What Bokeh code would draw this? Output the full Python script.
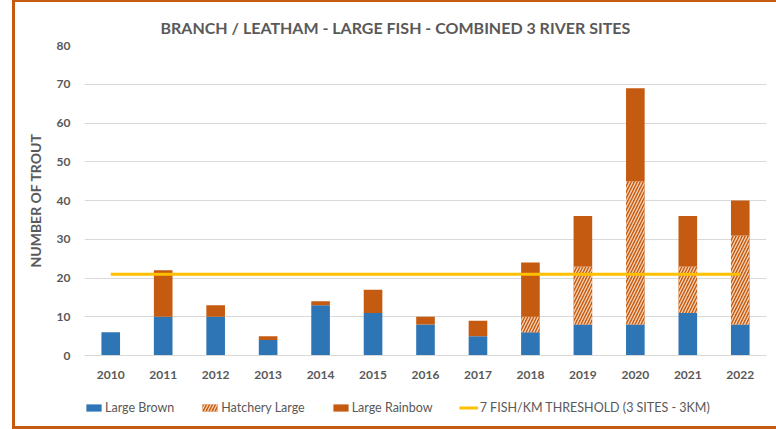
import numpy as np
from bokeh.plotting import figure
from bokeh.layouts import column
from bokeh.models import ColumnDataSource, Legend, LegendItem, Range1d
from bokeh.embed import file_html
from bokeh.resources import INLINE

years = ["2010", "2011", "2012", "2013", "2014", "2015", "2016", "2017",
         "2018", "2019", "2020", "2021", "2022"]
large_brown = [6, 10, 10, 4, 13, 11, 8, 5, 6, 8, 8, 11, 8]
hatchery_large = [0, 0, 0, 0, 0, 0, 0, 0, 4, 15, 37, 12, 23]
large_rainbow = [0, 12, 3, 1, 1, 6, 2, 4, 14, 13, 24, 13, 9]
threshold = [21] * len(years)
y_ticks = [0, 10, 20, 30, 40, 50, 60, 70, 80]
labels = ["Large Brown", "Hatchery Large", "Large Rainbow",
          "7 FISH/KM THRESHOLD (3 SITES - 3KM)"]

BLUE = "#2E75B6"
ORANGE = "#C55A11"
YELLOW = "#FFC000"
GRAY = "#595959"
FONT = "Lato"
HATCH = dict(hatch_pattern="/", hatch_color="#F8D5B8", hatch_weight=1.3, hatch_scale=6)

b = np.array(large_brown, dtype=float)
h = np.array(hatchery_large, dtype=float)
r = np.array(large_rainbow, dtype=float)
src = ColumnDataSource(dict(
    x=years,
    b0=np.zeros_like(b), b1=b,
    h0=b, h1=b + h,
    r0=b + h, r1=b + h + r,
    t=threshold,
))


def draw(fig):
    rb = fig.vbar(x="x", bottom="b0", top="b1", width=0.355, source=src,
                  fill_color=BLUE, line_color=None)
    rh = fig.vbar(x="x", bottom="h0", top="h1", width=0.355, source=src,
                  fill_color=ORANGE, line_color=None, **HATCH)
    rr = fig.vbar(x="x", bottom="r0", top="r1", width=0.355, source=src,
                  fill_color=ORANGE, line_color=None)
    rt = fig.line(x="x", y="t", source=src, line_color=YELLOW, line_width=3)
    return [rb, rh, rr, rt]


p = figure(
    x_range=years, y_range=Range1d(0, 80),
    width=761, height=390,
    title="BRANCH / LEATHAM - LARGE FISH - COMBINED 3 RIVER SITES",
    output_backend="svg", toolbar_location=None,
    min_border_left=69, min_border_right=10, min_border_top=43, min_border_bottom=37,
)
p.outline_line_color = None
p.title.align = "left"
p.title.offset = 76
p.title.text_font = FONT
p.title.text_font_size = "16px"
p.title.text_font_style = "bold"
p.title.text_color = GRAY
p.title.standoff = 18

draw(p)

p.yaxis.ticker = y_ticks
p.ygrid.grid_line_color = "#D9D9D9"
p.xgrid.grid_line_color = None
p.yaxis.axis_line_color = None
p.yaxis.major_tick_line_color = None
p.yaxis.minor_tick_line_color = None
p.xaxis.axis_line_color = "#D9D9D9"
p.xaxis.major_tick_line_color = None
p.xaxis.minor_tick_line_color = None
p.yaxis.axis_label = "NUMBER OF TROUT"
p.yaxis.axis_label_text_font = FONT
p.yaxis.axis_label_text_font_size = "14px"
p.yaxis.axis_label_text_font_style = "bold"
p.yaxis.axis_label_text_color = GRAY
p.yaxis.axis_label_standoff = 10
for ax in (p.xaxis, p.yaxis):
    ax.major_label_text_font = FONT
    ax.major_label_text_font_size = "12px"
    ax.major_label_text_color = GRAY
    ax.major_label_text_font_style = "bold"
p.yaxis.major_label_standoff = 8
p.xaxis.major_label_standoff = 9

# legend strip: same series drawn out of its visible y range, only the legend shows
p2 = figure(width=761, height=34, x_range=years, y_range=Range1d(1000, 1001),
            output_backend="svg", toolbar_location=None,
            x_axis_location=None, y_axis_location=None,
            min_border=0)
p2.outline_line_color = None
p2.grid.grid_line_color = None
rends = draw(p2)

legend = Legend(items=[LegendItem(label=lab, renderers=[rd])
                       for lab, rd in zip(labels, rends)],
                orientation="horizontal", location=(0, 11))
legend.label_text_font = FONT
legend.label_text_font_size = "12.5px"
legend.label_text_color = GRAY
legend.border_line_color = None
legend.background_fill_alpha = 0
legend.glyph_width = 19
legend.glyph_height = 9
legend.label_standoff = 2
legend.spacing = 26
legend.padding = 0
legend.margin = 0
p2.add_layout(legend)

layout = column(p, p2, margin=(0, 0, 0, 12),
                styles={"border-top": "2px solid " + ORANGE,
                        "border-left": "3px solid " + ORANGE,
                        "border-bottom": "3px solid " + ORANGE})

open("out.html", "w").write(file_html(layout, INLINE))
